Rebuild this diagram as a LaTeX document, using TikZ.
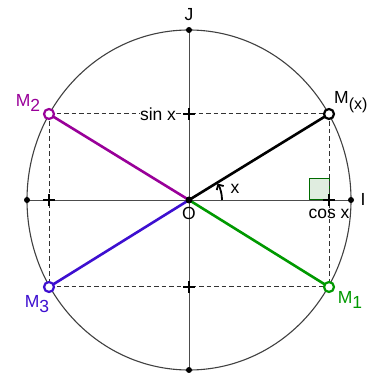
\documentclass[tikz,border=0pt]{standalone}
\usepackage{fontspec}
\setmainfont{Liberation Sans}
\usetikzlibrary{arrows.meta}
\definecolor{mpurple}{HTML}{990099}
\definecolor{mblue}{HTML}{3D0FD0}
\definecolor{mgreen}{HTML}{009900}
\definecolor{sqfill}{HTML}{E0EDE0}
\tikzset{
  lbl/.style={font=\fontsize{17.5}{19}\selectfont, inner sep=1pt},
  axis/.style={draw=black!70, line width=0.9pt},
  dline/.style={draw=black!80, dashed, dash pattern=on 4.5pt off 3pt, line width=1pt},
  pt/.style={circle, fill=black, inner sep=0pt, minimum size=6pt},
  mpt/.style={circle, draw=#1, line width=2.2pt, fill=white, inner sep=0pt, minimum size=10pt},
  tick/.style={draw=black, line width=1.6pt},
  seg/.style={line width=2.6pt}
}
\begin{document}
\begin{tikzpicture}[x=1pt,y=1pt]
\useasboundingbox (0,0) rectangle (368,374);
\coordinate (O) at (189,174);
\draw[black!75, line width=1.1pt] (O) ellipse [x radius=162, y radius=170];
% right angle
\draw[mgreen!70!black, fill=sqfill, line width=1pt] (309,174) rectangle (329,195);
% axes
\coordinate (Iw) at (27,174);
\coordinate (Ie) at (351,174);
\coordinate (Js) at (189,4);
\coordinate (Jn) at (189,344);
\draw[axis] (Iw) -- (Ie);
\draw[axis] (Js) -- (Jn);
% points M
\coordinate (M) at (329,260);
\coordinate (M2) at (49,260);
\coordinate (M3) at (49,87);
\coordinate (M1) at (329,87);
% dashed
\node[lbl, fill=white, inner sep=0pt] (sinx) at (158,260) {sin x};
\draw[dline] (M2) -- (sinx.west);
\draw[dline] (sinx.east) -- (M);
\draw[dline] (M3) -- (M1);
\draw[dline] (M2) -- (M3);
\draw[dline] (M) -- (M1);
% ticks
\foreach \p in {(329,174),(49,174),(189,260),(189,87)}{
  \draw[tick] \p ++(-6,0) -- ++(12,0);
  \draw[tick] \p ++(0,-6) -- ++(0,12);
}
% segments
\draw[seg, black] (O) -- (M);
\draw[seg, mpurple] (O) -- (M2);
\draw[seg, mblue] (O) -- (M3);
\draw[seg, mgreen] (O) -- (M1);
% angle arc
\draw[line width=1.8pt, -{Straight Barb[length=4pt,width=8pt]}] ([shift={(0:33)}]O) arc[start angle=0, end angle=30, radius=33];
% point markers
\node[pt] (Wp) at (Iw) {};
\node[pt] (Ep) at (Ie) {};
\node[pt] (Sp) at (Js) {};
\node[pt] (Np) at (Jn) {};
\node[pt, minimum size=7pt] (Op) at (O) {};
\node[mpt=black] (Mn) at (M) {};
\node[mpt=mpurple] (M2n) at (M2) {};
\node[mpt=mblue] (M3n) at (M3) {};
\node[mpt=mgreen] (M1n) at (M1) {};
% labels
\node[lbl] (Jl) at (189,359) {J};
\node[lbl] (Il) at (363,175) {I};
\node[lbl] (Ol) at (189,161) {O};
\node[lbl] (xl) at (235,185) {x};
\node[lbl] (cosl) at (329,160) {cos x};
\node[lbl, anchor=west, inner sep=0pt] (Ml) at (334,272) {M\raisebox{-6pt}{\fontsize{16}{17}\selectfont(x)}};
\node[lbl, text=mpurple] (M2l) at (28,271) {M\raisebox{-5pt}{2}};
\node[lbl, text=mblue] (M3l) at (37,70) {M\raisebox{-5pt}{3}};
\node[lbl, text=mgreen] (M1l) at (350,74) {M\raisebox{-5pt}{1}};
\end{tikzpicture}
\end{document}
